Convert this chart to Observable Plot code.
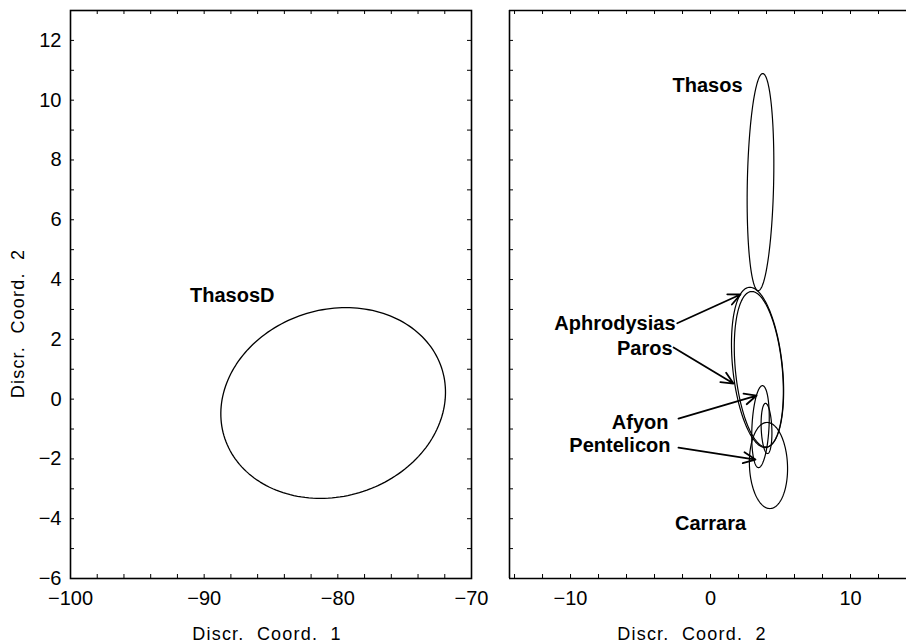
<!DOCTYPE html>
<html><head><meta charset="utf-8">
<script src="https://cdn.jsdelivr.net/npm/d3@7"></script>
<script src="https://cdn.jsdelivr.net/npm/@observablehq/plot@0.6"></script>
<style>
body{margin:0;background:#fff;}
#wrap{display:flex;width:906px;height:643px;overflow:hidden;background:#fff;position:relative;}
svg{display:block;flex:none;overflow:visible}
</style></head><body><div id="wrap"></div>
<script>
// ---------- data ----------
const yDomain = [-6, 13];
const yTicks = [-6, -4, -2, 0, 2, 4, 6, 8, 10, 12];
const yMinor = d3.range(-6, 13.01, 1);

// left panel
const leftXDomain = [-100, -70];
const leftXTicks = [-100, -90, -80, -70];
const leftXMinor = d3.range(-100, -69.99, 2);
const leftNames = ["ThasosD"];
const leftCx = [-80.35];
const leftCy = [-0.13];
const leftRx = [8.35];
const leftRy = [3.19];
const leftShear = [0.95];
const leftLabelX = [-87.9];
const leftLabelY = [3.47];

// right panel
const rightXDomain = [-14.36, 14];
const rightXTicks = [-10, 0, 10];
const rightXMinor = d3.range(-14, 14.01, 2);
const rightNames = ["Thasos", "Aphrodysias", "Paros", "Afyon", "Pentelicon", "Carrara"];
const rightCx = [3.57, 3.36, 3.45, 3.57, 4.0, 4.14];
const rightCy = [7.26, 1.06, 1.0, -0.92, -0.98, -2.22];
const rightRx = [0.94, 1.78, 1.68, 0.61, 0.38, 1.36];
const rightRy = [3.63, 2.68, 2.6, 1.37, 0.84, 1.44];
const rightShear = [0.16, -0.55, -0.5, 0.14, -0.07, -0.1];

const endLabels = ["Thasos", "Aphrodysias", "Paros", "Afyon", "Pentelicon"];
const endLabelX = [2.29, -2.5, -2.71, -3.0, -2.86];
const endLabelY = [10.49, 2.53, 1.69, -0.78, -1.55];
const midLabels = ["Carrara"];
const midLabelX = [0];
const midLabelY = [-4.16];

const arrowNames = ["Aphrodysias", "Paros", "Afyon", "Pentelicon"];
const arrowX1 = [-2.38, -2.64, -2.29, -2.29];
const arrowY1 = [2.54, 1.73, -0.65, -1.62];
const arrowX2 = [2.14, 1.64, 3.29, 3.21];
const arrowY2 = [3.50, 0.52, 0.12, -2.02];

// ---------- helpers ----------
function outline(names, cx, cy, rx, ry, sh) {
  const pts = [];
  names.forEach((n, i) => {
    for (let k = 0; k <= 180; k++) {
      const t = (k / 180) * 2 * Math.PI;
      pts.push({name: n, x: cx[i] + rx[i] * Math.cos(t) + sh[i] * Math.sin(t), y: cy[i] + ry[i] * Math.sin(t)});
    }
  });
  return pts;
}
const fmt = d => (d < 0 ? "\u2212" + Math.abs(d) : String(d));
const FONT = "'Liberation Sans', Arial, Helvetica, sans-serif";
const H = 643, MT = 10, MB = 65;
const innerH = H - MT - MB;

function common(width, ml, mr, xDomain, xTicks, xMinor, title, titleDx, framed) {
  const innerW = width - ml - mr;
  const marks = [
    Plot.tickX(xMinor, {x: d => d, insetTop: innerH - 4, stroke: "#000", strokeWidth: 1}),
    Plot.tickX(xMinor, {x: d => d, insetBottom: innerH - 4, stroke: "#000", strokeWidth: 1}),
    Plot.tickY(yMinor, {y: d => d, insetRight: innerW - 4, stroke: "#000", strokeWidth: 1}),
    Plot.axisX(xTicks, {anchor: "bottom", tickSize: 0, tickPadding: 12, tickFormat: fmt, label: null, fontSize: 20}),
    Plot.text([title], {frameAnchor: "bottom", text: d => d, dy: 61, dx: titleDx, fontSize: 18, textAnchor: "middle"})
  ];
  if (framed) {
    marks.push(Plot.tickY(yMinor, {y: d => d, insetLeft: innerW - 4, stroke: "#000", strokeWidth: 1}));
    marks.push(Plot.frame({stroke: "#000", strokeWidth: 1.6}));
  } else {
    marks.push(Plot.ruleY(yDomain, {y: d => d, stroke: "#000", strokeWidth: 1.6}));
    marks.push(Plot.ruleX([xDomain[0]], {x: d => d, stroke: "#000", strokeWidth: 1.6}));
  }
  return marks;
}

// ---------- left ----------
const leftPts = outline(leftNames, leftCx, leftCy, leftRx, leftRy, leftShear);
const left = Plot.plot({
  width: 480, height: H, marginLeft: 70, marginRight: 9, marginTop: MT, marginBottom: MB,
  style: {fontFamily: FONT, fontSize: "20px", color: "#000", background: "none", overflow: "visible"},
  x: {domain: leftXDomain, axis: null},
  y: {domain: yDomain, axis: null},
  marks: [
    ...common(480, 70, 9, leftXDomain, leftXTicks, leftXMinor, "Discr.\u00a0\u00a0Coord.\u00a0\u00a01", -4, true),
    Plot.axisY(yTicks, {anchor: "left", tickSize: 0, tickPadding: 9, tickFormat: fmt, label: null, fontSize: 20}),
    Plot.text(["Discr.\u00a0\u00a0Coord.\u00a0\u00a02"], {frameAnchor: "left", text: d => d, rotate: -90, dx: -52, dy: 29, fontSize: 18, textAnchor: "middle", lineAnchor: "middle"}),
    Plot.line(leftPts, {x: "x", y: "y", z: "name", stroke: "#000", strokeWidth: 1.3, curve: "linear"}),
    Plot.text(leftNames, {x: leftLabelX, y: leftLabelY, text: d => d, fontWeight: "bold", fontSize: 20, textAnchor: "middle"})
  ]
});

// ---------- right ----------
const rightPts = outline(rightNames, rightCx, rightCy, rightRx, rightRy, rightShear);
const right = Plot.plot({
  width: 426, height: H, marginLeft: 29, marginRight: 0, marginTop: MT, marginBottom: MB,
  style: {fontFamily: FONT, fontSize: "20px", color: "#000", background: "none", overflow: "visible"},
  x: {domain: rightXDomain, axis: null},
  y: {domain: yDomain, axis: null},
  marks: [
    ...common(426, 29, 0, rightXDomain, rightXTicks, rightXMinor, "Discr.\u00a0\u00a0Coord.\u00a0\u00a02", -16, false),
    Plot.line(rightPts, {x: "x", y: "y", z: "name", stroke: "#000", strokeWidth: 1.2, curve: "linear"}),
    Plot.arrow(arrowNames, {x1: arrowX1, y1: arrowY1, x2: arrowX2, y2: arrowY2, stroke: "#000", strokeWidth: 1.8, headLength: 11, headAngle: 50}),
    Plot.text(endLabels, {x: endLabelX, y: endLabelY, text: d => d, fontWeight: "bold", fontSize: 20, textAnchor: "end"}),
    Plot.text(midLabels, {x: midLabelX, y: midLabelY, text: d => d, fontWeight: "bold", fontSize: 20, textAnchor: "middle"})
  ]
});

const wrap = document.getElementById("wrap");
wrap.appendChild(left);
wrap.appendChild(right);
d3.selectAll("svg text").filter(function () { return this.textContent.startsWith("Discr"); })
  .attr("letter-spacing", "1.2");
</script></body></html>
